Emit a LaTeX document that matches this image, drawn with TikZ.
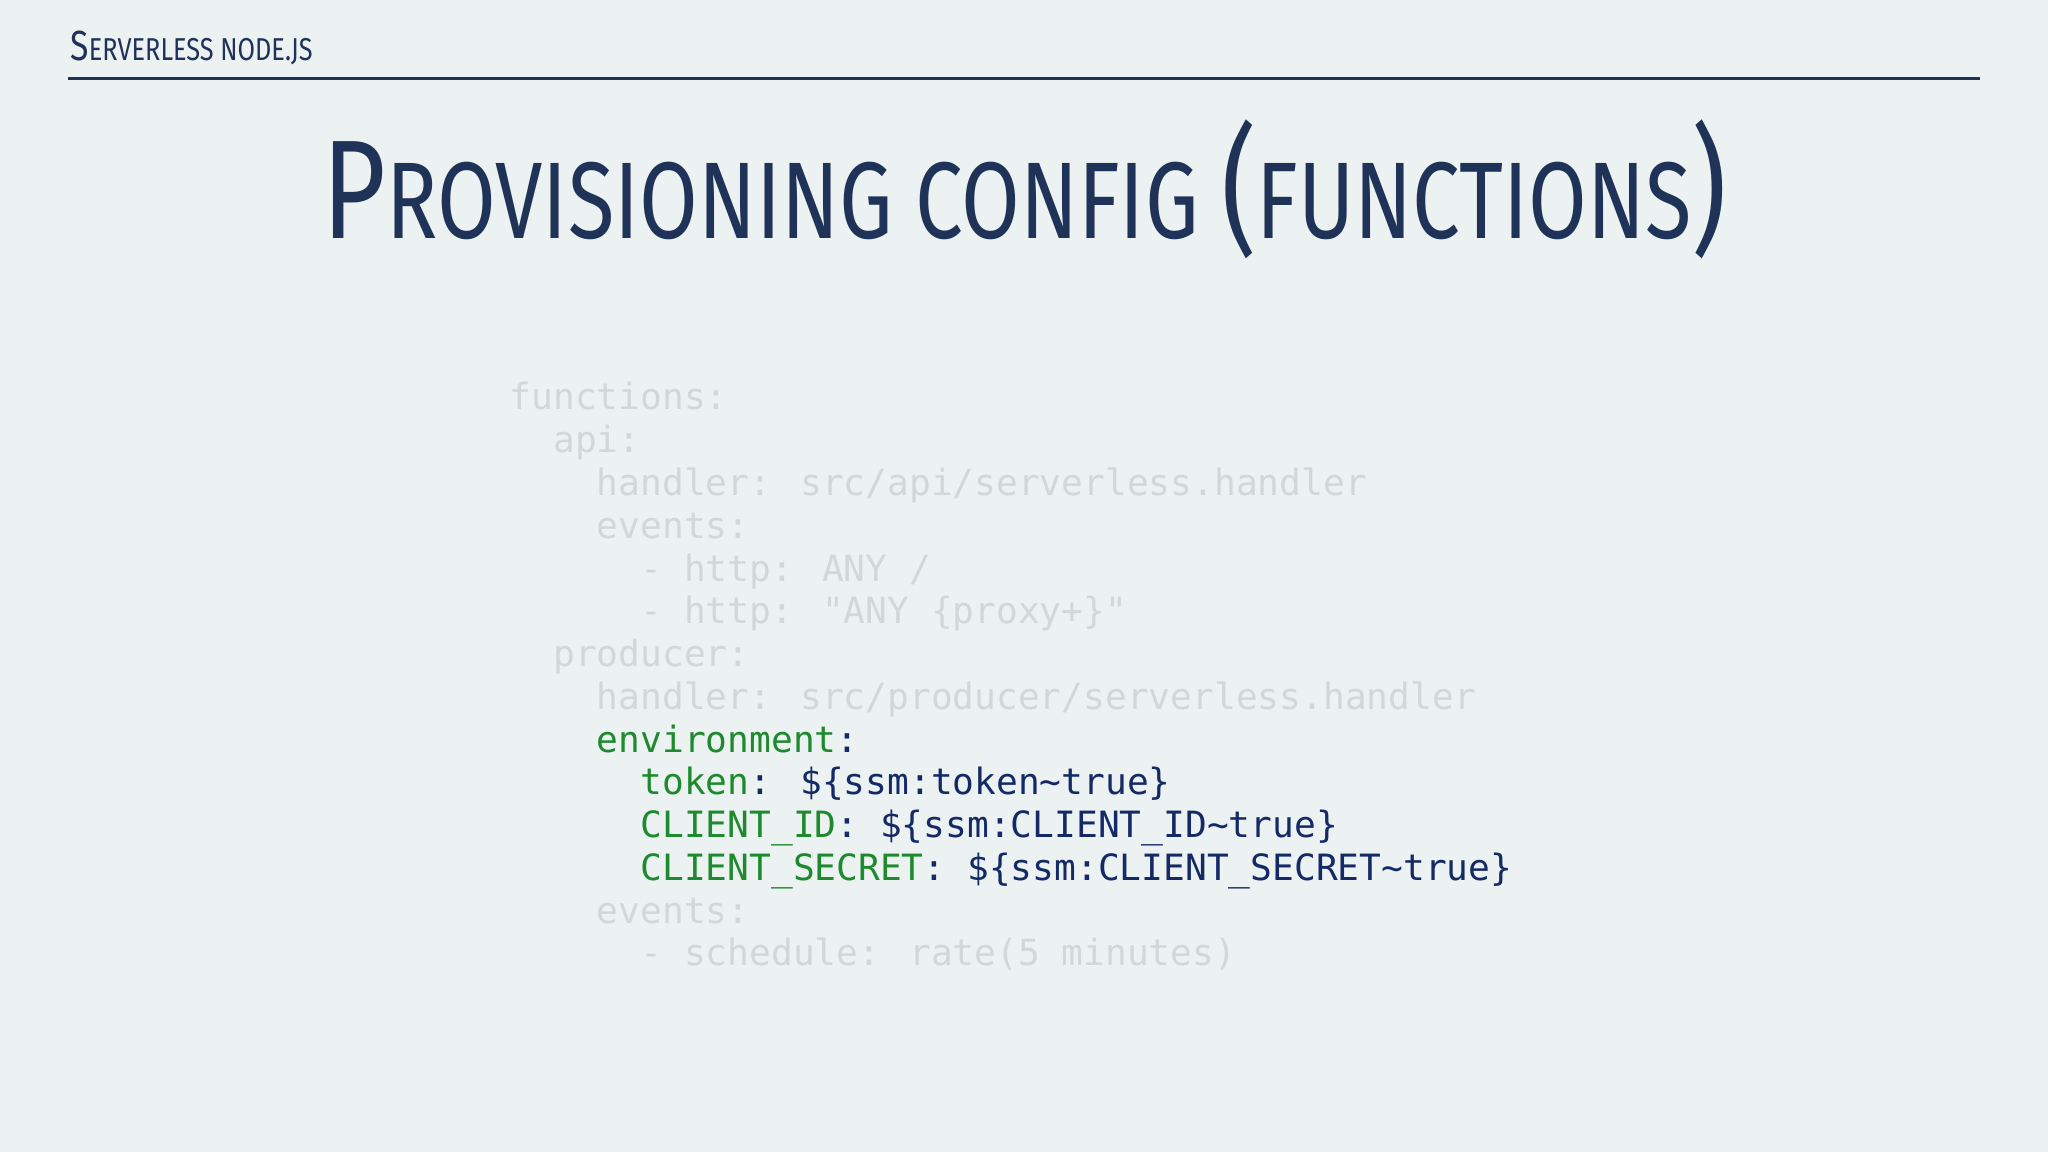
\documentclass[tikz,border=0pt]{standalone}
\usepackage{fontspec}
\setmainfont{Fira Sans}
\newfontfamily\codefont{DejaVu Sans Mono}
\definecolor{bgc}{HTML}{ECF1F2}
\definecolor{navy}{HTML}{1F3358}
\definecolor{faded}{HTML}{D2D8DA}
\definecolor{grn}{HTML}{1E8A2E}
\definecolor{cnavy}{HTML}{142A66}
\tikzset{codeline/.style={anchor=base west,inner sep=0pt,font=\codefont\fontsize{10.3}{12}\selectfont}}
\begin{document}
\begin{tikzpicture}[x=1cm,y=-1cm]
\fill[bgc] (0,0) rectangle (20.48,11.52);
\node[anchor=base west,inner sep=0pt,text=navy,font=\fontsize{12}{14}\selectfont,xscale=0.8] (hdr) at (0.70,0.61) {S\fontsize{9}{10}\selectfont ERVERLESS NODE.JS};
\coordinate (l1) at (0.68,0.785); \coordinate (l2) at (19.80,0.785);
\draw[navy,line width=0.9pt] (l1) -- (l2);
\node[anchor=base,inner sep=0pt,text=navy,font=\fontsize{40}{44}\selectfont,xscale=0.78] (title) at (10.25,2.39) {P\fontsize{31}{34}\selectfont ROVISIONING CONFIG \fontsize{40}{44}\selectfont(\fontsize{31}{34}\selectfont FUNCTIONS\fontsize{40}{44}\selectfont)};
\foreach \i/\t/\c in {0/{functions:}/faded,
 1/{\ \ api:}/faded,
 2/{\ \ \ \ handler: src/api/serverless.handler}/faded,
 3/{\ \ \ \ events:}/faded,
 4/{\ \ \ \ \ \ - http: ANY /}/faded,
 5/{\ \ \ \ \ \ - http: "ANY \{proxy+\}"}/faded,
 6/{\ \ producer:}/faded,
 7/{\ \ \ \ handler: src/producer/serverless.handler}/faded,
 8/{\ \ \ \ \textcolor{grn}{environment}:}/cnavy,
 9/{\ \ \ \ \ \ \textcolor{grn}{token}: \$\{ssm:token\string~true\}}/cnavy,
 10/{\ \ \ \ \ \ \textcolor{grn}{CLIENT\_ID}: \$\{ssm:CLIENT\_ID\string~true\}}/cnavy,
 11/{\ \ \ \ \ \ \textcolor{grn}{CLIENT\_SECRET}: \$\{ssm:CLIENT\_SECRET\string~true\}}/cnavy,
 12/{\ \ \ \ events:}/faded,
 13/{\ \ \ \ \ \ - schedule: rate(5 minutes)}/faded}
 \node[codeline,text=\c] (c\i) at (5.09,4.10+0.4275*\i) {\t};
\end{tikzpicture}
\end{document}
